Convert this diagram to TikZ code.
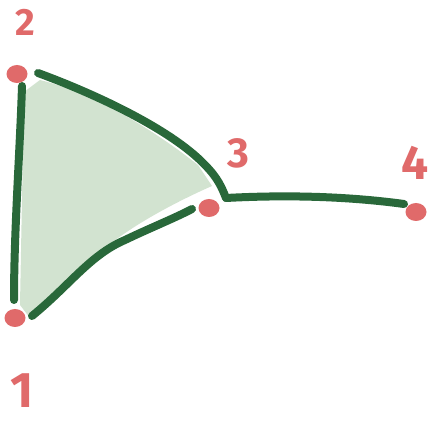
\documentclass[tikz,border=0pt]{standalone}
\usepackage{fontspec}
\setmainfont{Fira Sans}
\usetikzlibrary{shapes.geometric}
\definecolor{dotred}{HTML}{E06A6A}
\definecolor{edgegreen}{HTML}{29683A}
\definecolor{fillgreen}{HTML}{D2E3D0}
\begin{document}
\begin{tikzpicture}[x=1pt,y=-1pt,
  dot/.style={ellipse,fill=dotred,inner sep=0pt,minimum width=21pt,minimum height=18pt},
  lbl/.style={text=dotred,font=\bfseries,inner sep=0pt},
  edge/.style={draw=edgegreen,line width=8pt,line cap=round,line join=round}]
\useasboundingbox (0,0) rectangle (432,425);
\fill[white] (0,0) rectangle (432,425);
% fill
\fill[fillgreen] (24,92) -- (40,80) .. controls (100,95) and (160,135) .. (198,165)
  -- (212,186) .. controls (180,200) and (120,230) .. (90,262) -- (30,318) -- (20,305) -- cycle;
% coordinates
\coordinate (a2) at (22,86);
\coordinate (a1) at (14,300);
\coordinate (b2) at (38,73);
\coordinate (b3) at (226,198);
\coordinate (c4) at (404,204);
\coordinate (d1) at (32,316);
\coordinate (d3) at (192,209);
% edges
\draw[edge] (a2) .. controls (20,150) and (14,230) .. (a1);
\draw[edge] (b2) .. controls (90,92) and (170,128) .. (205,165) .. controls (218,178) and (222,188) .. (b3);
\draw[edge] (b3) .. controls (300,194) and (360,198) .. (c4);
\draw[edge] (d1) .. controls (70,285) and (90,255) .. (125,240) .. controls (150,228) and (175,218) .. (d3);
% dots
\node[dot] (v2) at (17,74) {};
\node[dot] (v1) at (15,318) {};
\node[dot] (v3) at (209,208) {};
\node[dot] (v4) at (416,212) {};
% labels
\node[lbl,font=\fontsize{38}{38}\selectfont\bfseries] (l2) at (25,22) {2};
\node[lbl,font=\fontsize{50}{50}\selectfont\bfseries] (l1) at (22,391) {1};
\node[lbl,font=\fontsize{42}{42}\selectfont\bfseries] (l3) at (238,153) {3};
\node[lbl,font=\fontsize{48}{48}\selectfont\bfseries] (l4) at (415,163) {4};
\end{tikzpicture}
\end{document}
